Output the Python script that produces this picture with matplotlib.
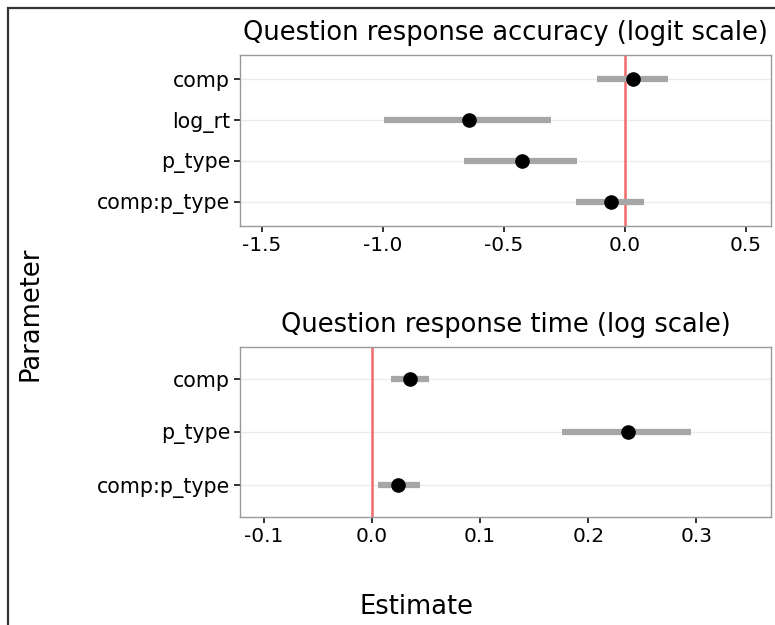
import matplotlib
matplotlib.use("Agg")
import matplotlib.pyplot as plt
from matplotlib.patches import Rectangle

# top panel: accuracy (logit scale)
acc_params = ["comp", "log_rt", "p_type", "comp:p_type"]
acc_est = [0.032, -0.643, -0.426, -0.059]
acc_lo = [-0.117, -0.996, -0.664, -0.202]
acc_hi = [0.178, -0.305, -0.197, 0.079]

# bottom panel: response time (log scale)
rt_params = ["comp", "p_type", "comp:p_type"]
rt_est = [0.0354, 0.237, 0.0244]
rt_lo = [0.018, 0.176, 0.006]
rt_hi = [0.053, 0.295, 0.044]

acc_ticks = [-1.5, -1.0, -0.5, 0.0, 0.5]
rt_ticks = [-0.1, 0.0, 0.1, 0.2, 0.3]

W, H = 775, 625
fig = plt.figure(figsize=(7.75, 6.25), dpi=100)
fig.patch.set_facecolor("white")

# frame of the (cropped) figure
fig.patches.append(Rectangle((8 / W, -0.1), 1.2, 1 - 8 / H + 0.1,
                             transform=fig.transFigure, fill=False,
                             edgecolor="#333333", linewidth=1.6))


def panel(rect, params, est, lo, hi, ticks, xlim, title):
    l, t, r, b = rect
    ax = fig.add_axes([l / W, 1 - b / H, (r - l) / W, (b - t) / H])
    n = len(params)
    ys = list(range(n, 0, -1))
    for y in ys:
        ax.axhline(y, color="#ebebeb", lw=1, zorder=0)
    ax.axvline(0, color="#f26b6b", lw=1.8, zorder=1)
    ax.hlines(ys, lo, hi, color="#a6a6a6", lw=4.5, zorder=2)
    ax.plot(est, ys, "o", color="black", ms=9.5, zorder=3)
    ax.set_ylim(0.4, n + 0.6)
    ax.set_yticks(ys)
    ax.set_yticklabels(params)
    ax.set_xlim(*xlim)
    ax.set_xticks(ticks)
    ax.set_xticklabels([f"{v:.1f}" for v in ticks])
    ax.tick_params(axis="y", labelsize=14.8)
    ax.tick_params(axis="x", labelsize=14.5)
    ax.tick_params(length=4, width=1.3, color="#222222",
                   labelcolor="black", pad=3)
    for s in ax.spines.values():
        s.set_color("#999999")
        s.set_linewidth(1)
    ax.set_title(title, fontsize=18.5, pad=11)
    return ax


panel((240, 55, 771, 226), acc_params, acc_est, acc_lo, acc_hi, acc_ticks,
      (-1.59, 0.603), "Question response accuracy (logit scale)")
panel((240, 347, 771, 517), rt_params, rt_est, rt_lo, rt_hi, rt_ticks,
      (-0.122, 0.369), "Question response time (log scale)")

fig.text(30 / W, 1 - 314 / H, "Parameter", rotation=90, fontsize=18.5,
         ha="center", va="center")
fig.text(416 / W, 1 - 607 / H, "Estimate", fontsize=18.5, ha="center",
         va="center")

fig.savefig("out.png", dpi=100)
